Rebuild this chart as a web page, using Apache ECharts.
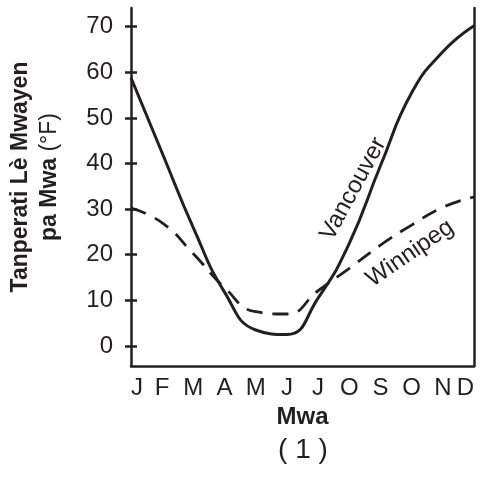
<!DOCTYPE html>
<html>
<head>
<meta charset="utf-8">
<script src="https://cdn.jsdelivr.net/npm/echarts@6/dist/echarts.min.js"></script>
<style>
  html, body { margin: 0; padding: 0; background: #fff; }
  #chart { width: 482px; height: 479px; }
</style>
</head>
<body>
<div id="chart"></div>
<script>
// mwa (x axis labels)
const months = ['J', 'F', 'M', 'A', 'M', 'J', 'J', 'O', 'S', 'O', 'N', 'D']
// tanperati lè mwayen pa mwa (°F)
const vancouver = [58.8, 42.3, 25.9, 11.8, 3.5, 2.5, 10.5, 22.5, 39.5, 55.5, 64.5, 70.2]
const winnipeg = [30.2, 27.0, 20.2, 12.8, 7.5, 7.0, 12.1, 17.0, 22.1, 26.5, 30.4, 32.7]
const yTicks = [0, 10, 20, 30, 40, 50, 60, 70]

const ink = '#231f20'
const font = 'Liberation Sans, Arial, sans-serif'

const chartInstance = echarts.init(document.getElementById('chart'))

const yBase = {
  type: 'value',
  min: -4.4,
  max: 74.1,
  splitLine: { show: false }
}

const option = {
  animation: false,
  textStyle: { fontFamily: font, color: ink },
  title: {
    text: '( 1 )',
    left: 298,
    textAlign: 'center',
    top: 431,
    textStyle: { fontSize: 28, fontWeight: 'normal', color: ink, fontFamily: font }
  },
  grid: {
    left: 131,
    right: 8,
    top: 8,
    bottom: 113,
    outerBoundsMode: 'none'
  },
  xAxis: {
    type: 'value',
    min: 0,
    max: 11,
    interval: 1,
    name: 'Mwa',
    nameLocation: 'middle',
    nameGap: 29,
    nameTextStyle: { fontSize: 24, fontWeight: 'bold', color: ink, fontFamily: font },
    axisLine: { show: true, onZero: false, lineStyle: { color: ink, width: 2.5 } },
    axisTick: { show: false },
    splitLine: { show: false },
    axisLabel: {
      fontSize: 24,
      color: ink,
      margin: 10,
      alignMinLabel: 'left',
      alignMaxLabel: 'right',
      formatter: v => months[v]
    }
  },
  yAxis: [
    {
      ...yBase,
      position: 'left',
      name: '{b|Tanperati Lè Mwayen}\n{b|pa Mwa}{n| (°F)}',
      nameLocation: 'middle',
      nameGap: 67,
      nameTextStyle: {
        color: ink,
        fontFamily: font,
        align: 'center',
        padding: [0, 0, 0, 20],
        rich: {
          b: { fontSize: 23, fontWeight: 'bold', color: ink, fontFamily: font, lineHeight: 29 },
          n: { fontSize: 23, fontWeight: 'normal', color: ink, fontFamily: font, lineHeight: 29 }
        }
      },
      axisLine: { show: true, onZero: false, lineStyle: { color: ink, width: 2.5 } },
      axisTick: { show: true, length: 6, customValues: yTicks, lineStyle: { color: ink, width: 2.5 } },
      axisLabel: { fontSize: 24, color: ink, margin: 18, customValues: yTicks }
    },
    {
      ...yBase,
      position: 'right',
      axisLine: { show: true, onZero: false, lineStyle: { color: ink, width: 2.5 } },
      axisTick: { show: false },
      axisLabel: { show: false }
    },
    {
      ...yBase,
      position: 'left',
      axisLine: { show: false },
      axisTick: { show: true, inside: true, length: 6, customValues: yTicks, lineStyle: { color: ink, width: 2.5 } },
      axisLabel: { show: false }
    }
  ],
  series: [
    {
      name: 'Vancouver',
      type: 'line',
      smooth: 0.5,
      symbol: 'none',
      data: vancouver.map((v, i) => [i, v]),
      lineStyle: { color: ink, width: 3 },
      markPoint: {
        symbol: 'circle',
        symbolSize: 0,
        label: { show: true, position: 'inside', rotate: 61.5, fontSize: 24, color: ink, fontFamily: font },
        data: [{ coord: [7.13, 34.4], value: 'Vancouver' }]
      }
    },
    {
      name: 'Winnipeg',
      type: 'line',
      smooth: 0.5,
      symbol: 'none',
      data: winnipeg.map((v, i) => [i, v]),
      lineStyle: { color: ink, width: 2.8, type: [16, 10] },
      markPoint: {
        symbol: 'circle',
        symbolSize: 0,
        label: { show: true, position: 'inside', rotate: 34.5, fontSize: 24, color: ink, fontFamily: font },
        data: [{ coord: [8.95, 20.3], value: 'Winnipeg' }]
      }
    }
  ]
}

chartInstance.setOption(option)
window.addEventListener('resize', () => chartInstance.resize())
</script>
</body>
</html>
